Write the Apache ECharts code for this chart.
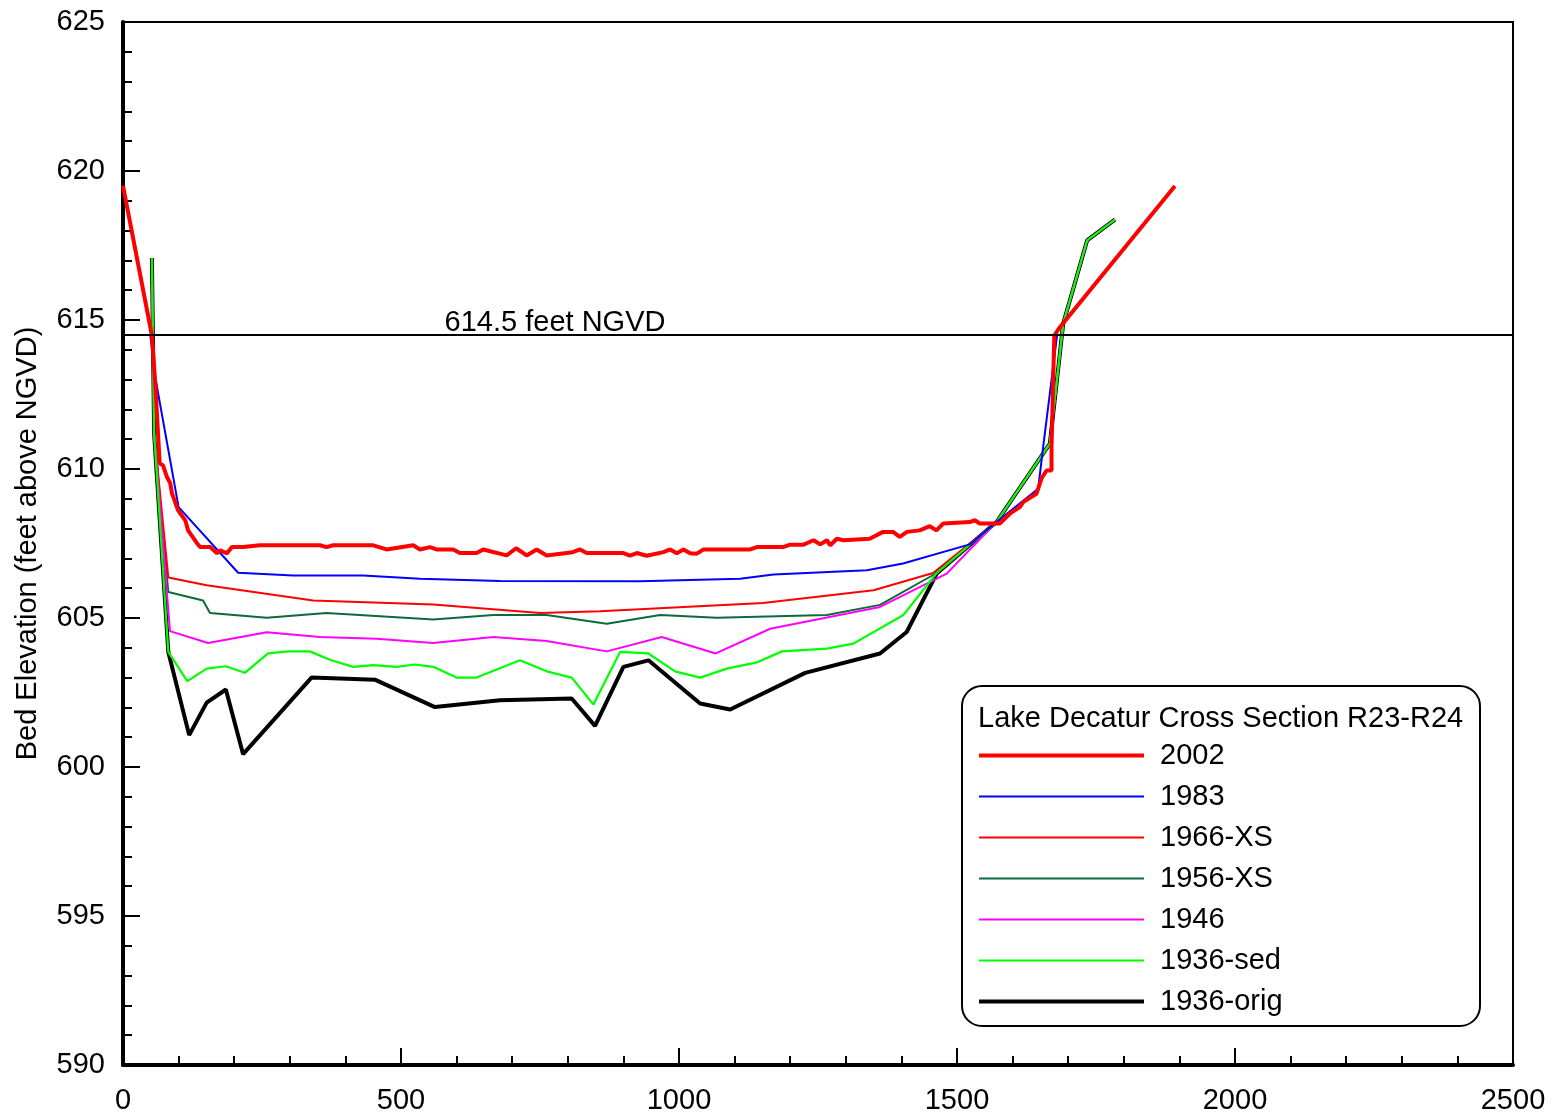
<!DOCTYPE html>
<html>
<head>
<meta charset="utf-8">
<script src="https://cdn.jsdelivr.net/npm/echarts@6/dist/echarts.min.js"></script>
<style>
html,body{margin:0;padding:0;background:#fff;}
#chart{width:1557px;height:1117px;}
</style>
</head>
<body>
<div id="chart"></div>
<script>
// ---- Data (station in feet, elevation in feet above NGVD) ----
const seriesNames = ['2002', '1983', '1966-XS', '1956-XS', '1946', '1936-sed', '1936-orig'];
const legendTitle = 'Lake Decatur Cross Section R23-R24';
const ngvdLevel = 614.5;
const ngvdLabel = '614.5 feet NGVD';
const ngvdLabelX = 777;
const xTicks = [0, 500, 1000, 1500, 2000, 2500];
const yTicks = [590, 595, 600, 605, 610, 615, 620, 625];

const x2002 = [0, 52, 58, 66, 72, 79, 85, 88, 99, 112, 117, 133, 139, 157, 169, 175, 187, 196, 216, 246, 354, 366, 378, 450, 474, 522, 534, 552, 564, 594, 606, 636, 648, 690, 707, 726, 744, 762, 809, 822, 834, 858, 900, 912, 924, 942, 972, 984, 996, 1008, 1020, 1032, 1044, 1128, 1140, 1187, 1200, 1224, 1242, 1254, 1266, 1272, 1284, 1296, 1343, 1367, 1385, 1397, 1410, 1433, 1451, 1463, 1475, 1523, 1532, 1541, 1565, 1577, 1595, 1613, 1619, 1637, 1643, 1652, 1661, 1670, 1670, 1673, 1675, 1685, 1892];
const y2002 = [619.5, 614.48, 612.87, 610.19, 610.12, 609.73, 609.52, 609.19, 608.61, 608.28, 607.94, 607.51, 607.38, 607.38, 607.17, 607.27, 607.17, 607.38, 607.38, 607.44, 607.44, 607.38, 607.44, 607.44, 607.30, 607.44, 607.30, 607.38, 607.30, 607.30, 607.18, 607.18, 607.30, 607.10, 607.34, 607.10, 607.30, 607.10, 607.21, 607.30, 607.18, 607.18, 607.18, 607.09, 607.18, 607.09, 607.21, 607.30, 607.17, 607.30, 607.17, 607.16, 607.30, 607.30, 607.38, 607.38, 607.46, 607.46, 607.61, 607.47, 607.61, 607.44, 607.66, 607.61, 607.66, 607.89, 607.89, 607.72, 607.89, 607.94, 608.08, 607.94, 608.17, 608.22, 608.28, 608.17, 608.17, 608.17, 608.5, 608.72, 608.89, 609.1, 609.17, 609.68, 609.95, 609.95, 610.74, 612.97, 614.48, 614.76, 619.5];

const x1983 = [49, 58, 100, 207, 306, 432, 534, 678, 930, 1110, 1170, 1338, 1403, 1523, 1571, 1646, 1655, 1680];
const y1983 = [614.5, 613.08, 608.72, 606.52, 606.43, 606.43, 606.32, 606.24, 606.23, 606.32, 606.46, 606.6, 606.83, 607.47, 608.22, 609.34, 610.74, 614.48];

const x1966 = [52, 56, 81.5, 150.5, 342, 558, 750, 858, 1151, 1350, 1457, 1571, 1667, 1691, 1734, 1784];
const y1966 = [617.08, 611.19, 606.36, 606.10, 605.59, 605.45, 605.17, 605.23, 605.50, 605.93, 606.51, 608.22, 610.85, 614.88, 617.67, 618.37];

const x1956 = [52, 56, 81.5, 144, 156.5, 258.5, 366, 558, 666, 762, 870, 966, 1068, 1266, 1361.5, 1463.5, 1571, 1667, 1691, 1734, 1784];
const y1956 = [617.08, 611.19, 605.87, 605.59, 605.17, 605.01, 605.17, 604.95, 605.10, 605.10, 604.81, 605.10, 605.01, 605.10, 605.44, 606.51, 608.22, 610.85, 614.88, 617.67, 618.37];

const x1946 = [52, 56, 84.5, 153, 258.5, 354, 456, 558, 666, 762, 870, 969, 1066, 1164, 1361.5, 1481.5, 1571, 1667, 1691, 1734, 1784];
const y1946 = [617.08, 611.19, 604.56, 604.16, 604.52, 604.36, 604.30, 604.16, 604.36, 604.23, 603.88, 604.36, 603.81, 604.64, 605.37, 606.49, 608.22, 610.85, 614.88, 617.67, 618.37];

const x1936sed = [52, 56, 81.5, 115.6, 150.5, 185, 219, 261, 297, 336, 372, 414, 450, 492, 525, 558, 600, 636, 714, 762, 807, 846, 894, 945, 993, 1038, 1086, 1140, 1185, 1266, 1313.5, 1403, 1463.5, 1571, 1667, 1691, 1734, 1784];
const y1936sed = [617.08, 611.19, 603.86, 602.88, 603.30, 603.38, 603.16, 603.81, 603.88, 603.88, 603.60, 603.36, 603.42, 603.36, 603.44, 603.36, 603.00, 603.00, 603.58, 603.21, 603.00, 602.10, 603.86, 603.81, 603.21, 603.00, 603.30, 603.51, 603.88, 603.97, 604.14, 605.09, 606.51, 608.22, 610.85, 614.88, 617.67, 618.37];

const x1936orig = [52, 56, 81.5, 119, 150.5, 185, 216, 339, 453, 561, 678, 807, 849, 900, 945, 1038, 1092, 1227, 1361.5, 1409.5, 1463.5, 1571, 1667, 1691, 1734, 1784];
const y1936orig = [617.08, 611.19, 603.86, 601.07, 602.16, 602.60, 600.43, 603.00, 602.93, 602.01, 602.24, 602.30, 601.38, 603.36, 603.58, 602.13, 601.93, 603.16, 603.81, 604.53, 606.49, 608.22, 610.85, 614.88, 617.67, 618.37];

// ---- Build chart ----
const FONT = "'Liberation Sans', Arial, sans-serif";
function zip(xs, ys) { return xs.map((x, i) => [x, ys[i]]); }

const styles = {
  '2002':      { color: '#ff0000', width: 4 },
  '1983':      { color: '#0000ff', width: 2 },
  '1966-XS':   { color: '#ff0000', width: 2 },
  '1956-XS':   { color: '#0b6b3a', width: 2 },
  '1946':      { color: '#ff00ff', width: 2 },
  '1936-sed':  { color: '#00ff00', width: 2.2 },
  '1936-orig': { color: '#000000', width: 4 }
};
const dataMap = {
  '2002': zip(x2002, y2002),
  '1983': zip(x1983, y1983),
  '1966-XS': zip(x1966, y1966),
  '1956-XS': zip(x1956, y1956),
  '1946': zip(x1946, y1946),
  '1936-sed': zip(x1936sed, y1936sed),
  '1936-orig': zip(x1936orig, y1936orig)
};
// draw order: bottom to top
const drawOrder = ['1936-orig', '1956-XS', '1966-XS', '1946', '1936-sed', '1983', '2002'];

const series = drawOrder.map(name => ({
  name: name,
  type: 'line',
  data: dataMap[name],
  symbol: 'none',
  showSymbol: false,
  smooth: false,
  animation: false,
  color: styles[name].color,
  lineStyle: { color: styles[name].color, width: styles[name].width },
  z: 3
}));

series.push({
  name: 'ngvd',
  type: 'line',
  data: [],
  symbol: 'none',
  animation: false,
  z: 2,
  markLine: {
    silent: true,
    symbol: ['none', 'none'],
    animation: false,
    label: { show: false },
    lineStyle: { color: '#000', width: 2, type: 'solid' },
    data: [{ yAxis: ngvdLevel }]
  },
  markPoint: {
    silent: true,
    animation: false,
    symbol: 'circle',
    symbolSize: 0,
    itemStyle: { color: 'transparent' },
    label: {
      show: true,
      position: 'top',
      distance: 0,
      offset: [0, 3],
      formatter: ngvdLabel,
      color: '#000',
      fontFamily: FONT,
      fontSize: 29
    },
    data: [{ coord: [ngvdLabelX, ngvdLevel] }]
  }
});

const chart = echarts.init(document.getElementById('chart'), null, { renderer: 'canvas' });
chart.setOption({
  backgroundColor: '#fff',
  animation: false,
  textStyle: { fontFamily: FONT },
  grid: {
    left: 123, right: 44, top: 22, bottom: 52,
    containLabel: false,
    outerBoundsMode: 'none',
    show: true, borderColor: '#000', borderWidth: 2, backgroundColor: 'transparent'
  },
  xAxis: {
    type: 'value',
    min: xTicks[0], max: xTicks[xTicks.length - 1], interval: 500,
    axisLine: { show: true, onZero: false, lineStyle: { color: '#000', width: 4 } },
    axisTick: { show: true, inside: true, length: 17, lineStyle: { color: '#000', width: 2 } },
    minorTick: { show: true, splitNumber: 5, length: 9, lineStyle: { color: '#000', width: 2 } },
    splitLine: { show: false },
    axisLabel: { color: '#000', fontSize: 29, fontFamily: FONT, margin: 21, formatter: v => String(v) }
  },
  yAxis: {
    type: 'value',
    min: yTicks[0], max: yTicks[yTicks.length - 1], interval: 5,
    name: 'Bed Elevation (feet above NGVD)',
    nameLocation: 'middle',
    nameRotate: 90,
    nameGap: 81,
    nameTextStyle: { color: '#000', fontSize: 29, fontFamily: FONT },
    axisLine: { show: true, onZero: false, lineStyle: { color: '#000', width: 4 } },
    axisTick: { show: true, inside: true, length: 17, lineStyle: { color: '#000', width: 2 } },
    minorTick: { show: true, splitNumber: 5, length: 9, lineStyle: { color: '#000', width: 2 } },
    splitLine: { show: false },
    axisLabel: { color: '#000', fontSize: 29, fontFamily: FONT, margin: 18, formatter: v => String(v) }
  },
  legend: {
    data: seriesNames,
    orient: 'vertical',
    left: 977,
    top: 741,
    itemWidth: 165,
    itemHeight: 26,
    itemGap: 12,
    padding: 0,
    z: 10,
    selectedMode: false,
    itemStyle: { opacity: 0 },
    lineStyle: { width: 'inherit' },
    textStyle: { color: '#000', fontSize: 29, fontFamily: FONT, padding: [0, 0, 0, 11] }
  },
  graphic: [
    {
      type: 'rect',
      z: 8,
      shape: { x: 962, y: 686, width: 518, height: 340, r: 20 },
      style: { fill: '#fff', stroke: '#000', lineWidth: 2 }
    },
    {
      type: 'text',
      z: 9,
      x: 978, y: 719,
      style: {
        text: legendTitle,
        fill: '#000',
        font: "29px 'Liberation Sans', Arial, sans-serif",
        textAlign: 'left',
        textVerticalAlign: 'middle'
      }
    }
  ],
  series: series
});
</script>
</body>
</html>
